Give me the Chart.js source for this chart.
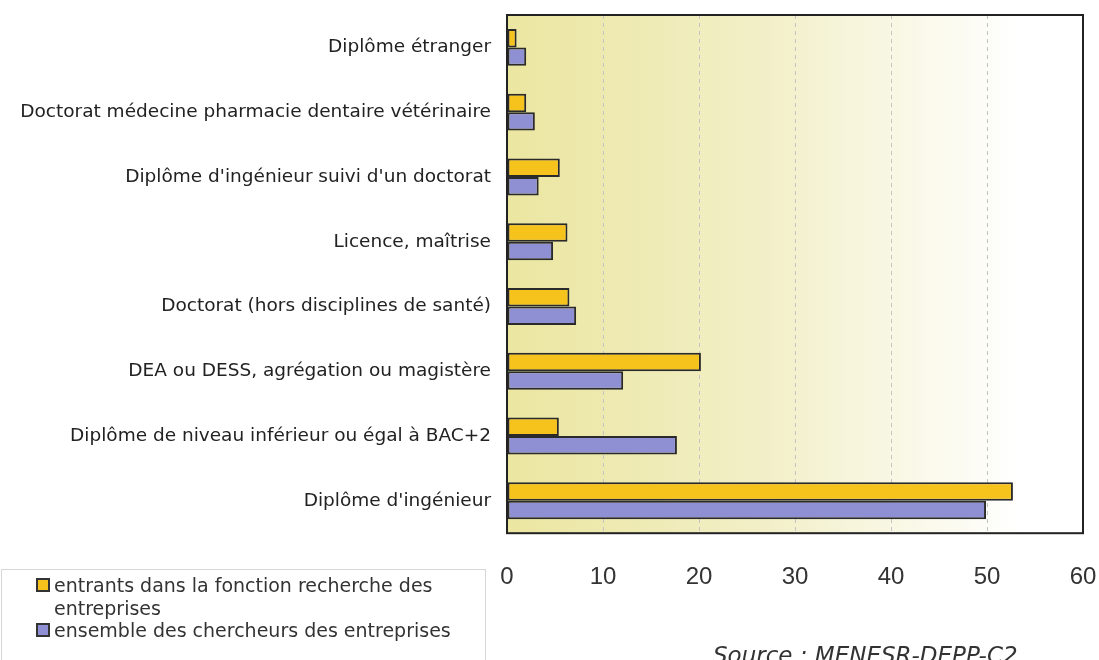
<!DOCTYPE html>
<html>
<head>
<meta charset="utf-8">
<script src="https://cdn.jsdelivr.net/npm/chart.js@4/dist/chart.umd.min.js"></script>
<style>
  body { margin: 0; background: #fff; font-family: "DejaVu Sans", sans-serif; }
  #wrap { position: relative; width: 1099px; height: 660px; overflow: hidden; }
  #chart { position: absolute; left: 0; top: 0; }
  #legend {
    position: absolute; left: 1px; top: 569px; width: 485px; height: 100px;
    border: 1px solid #d6d6d6; box-sizing: border-box; padding: 4px 0 0 34px;
    font-size: 19px; color: #333; line-height: 22.5px;
  }
  #legend .item { position: relative; padding-left: 18px; width: 420px; }
  #legend .sw { position: absolute; left: 0; top: 4px; width: 10px; height: 10px; border: 2px solid #333; }
  #source {
    position: absolute; left: 713px; top: 644px; font-size: 23px; line-height: 23px;
    font-style: italic; color: #333; white-space: nowrap;
  }
</style>
</head>
<body>
<div id="wrap">
  <canvas id="chart" width="1099" height="660"></canvas>
  <div id="legend"></div>
  <div id="source">Source : MENESR-DEPP-C2</div>
</div>
<script>
// categories, top to bottom
var categories = [
  'Diplôme étranger',
  'Doctorat médecine pharmacie dentaire vétérinaire',
  "Diplôme d'ingénieur suivi d'un doctorat",
  'Licence, maîtrise',
  'Doctorat (hors disciplines de santé)',
  'DEA ou DESS, agrégation ou magistère',
  'Diplôme de niveau inférieur ou égal à BAC+2',
  "Diplôme d'ingénieur"
];

// entrants dans la fonction recherche des entreprises
var entrants = [1, 2, 5.5, 6.3, 6.5, 20.2, 5.4, 52.7];
// ensemble des chercheurs des entreprises
var ensemble = [2, 2.9, 3.3, 4.8, 7.2, 12.1, 17.7, 49.9];

var seriesLabels = [
  'entrants dans la fonction recherche des entreprises',
  'ensemble des chercheurs des entreprises'
];
var seriesColors = ['#f6c21c', '#8f90d4'];

// pale yellow gradient behind the bars + black frame
var plotFrame = {
  id: 'plotFrame',
  beforeDraw: function(chart) {
    var a = chart.chartArea, ctx = chart.ctx;
    var g = ctx.createLinearGradient(a.left, 0, a.right, 0);
    g.addColorStop(0, '#ebe6a0');
    g.addColorStop(0.45, '#f2efc8');
    g.addColorStop(0.89, '#ffffff');
    ctx.save();
    ctx.fillStyle = g;
    ctx.fillRect(a.left, a.top, a.right - a.left, a.bottom - a.top);
    ctx.restore();
  },
  afterDraw: function(chart) {
    var a = chart.chartArea, ctx = chart.ctx;
    ctx.save();
    ctx.strokeStyle = '#222';
    ctx.lineWidth = 2;
    ctx.strokeRect(a.left, a.top, a.right - a.left, a.bottom - a.top);
    ctx.restore();
  }
};

var ctx = document.getElementById('chart').getContext('2d');
var myChart = new Chart(ctx, {
  type: 'bar',
  data: {
    labels: categories,
    datasets: [{
      label: seriesLabels[0],
      data: entrants,
      backgroundColor: seriesColors[0],
      borderColor: '#2a2a2a',
      borderWidth: 2,
      borderSkipped: false
    }, {
      label: seriesLabels[1],
      data: ensemble,
      backgroundColor: seriesColors[1],
      borderColor: '#2a2a2a',
      borderWidth: 2,
      borderSkipped: false
    }]
  },
  options: {
    indexAxis: 'y',
    responsive: false,
    animation: false,
    categoryPercentage: 0.57,
    barPercentage: 1.0,
    layout: { padding: { top: 15, right: 16, bottom: 38, left: 0 } },
    plugins: {
      legend: { display: false },
      tooltip: { enabled: false }
    },
    scales: {
      x: {
        min: 0,
        max: 60,
        ticks: { stepSize: 10, color: '#333', font: { family: 'Liberation Sans', size: 24 }, padding: 30 },
        grid: { color: '#c4c4c4', drawTicks: false, tickLength: 0 },
        border: { display: false, dash: [4, 4] },
        afterFit: function(scale) {
          scale.paddingLeft = 0;
          scale.paddingRight = 0;
        }
      },
      y: {
        ticks: { color: '#222', font: { family: 'DejaVu Sans', size: 18.5 }, padding: 16 },
        grid: { display: false, drawTicks: false, tickLength: 0 },
        border: { display: false },
        afterFit: function(scale) {
          scale.width = 507;
          scale.paddingTop = 0;
          scale.paddingBottom = 0;
        }
      }
    }
  },
  plugins: [plotFrame]
});

// HTML legend from the series labels
var leg = document.getElementById('legend');
seriesLabels.forEach(function(lbl, i) {
  var d = document.createElement('div');
  d.className = 'item';
  d.innerHTML = '<span class="sw" style="background:' + seriesColors[i] + '"></span>' + lbl;
  leg.appendChild(d);
});
</script>
</body>
</html>
